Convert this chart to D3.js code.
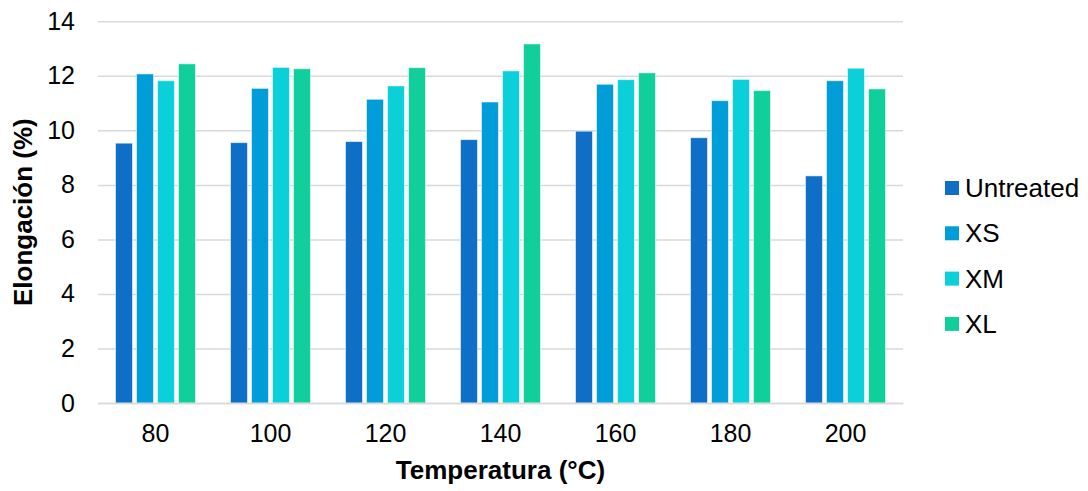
<!DOCTYPE html>
<html>
<head>
<meta charset="utf-8">
<script src="https://cdn.jsdelivr.net/npm/d3@7"></script>
<style>
  html, body { margin: 0; padding: 0; background: #fff; }
  svg { display: block; font-family: Arial, "Liberation Sans", sans-serif; }
</style>
</head>
<body>
<svg id="chart" width="1088" height="491"></svg>
<script>
const categories = ["80", "100", "120", "140", "160", "180", "200"];
const seriesNames = ["Untreated", "XS", "XM", "XL"];
const untreated = [9.53, 9.55, 9.59, 9.66, 9.97, 9.73, 8.33];
const xs = [12.07, 11.54, 11.14, 11.04, 11.69, 11.09, 11.82];
const xm = [11.82, 12.31, 11.63, 12.18, 11.86, 11.87, 12.28];
const xl = [12.44, 12.26, 12.30, 13.17, 12.11, 11.46, 11.52];
const yTicks = [0, 2, 4, 6, 8, 10, 12, 14];
const colors = ["#0F6FC6", "#009DD9", "#0BD0D9", "#10CF9B"];

const seriesValues = [untreated, xs, xm, xl];
const data = categories.map((c, i) => ({
  cat: c,
  vals: seriesNames.map((s, j) => ({ name: s, value: seriesValues[j][i], color: colors[j] }))
}));

const svg = d3.select("#chart");
const pL = 98, pR = 903, pT = 21.3, pB = 403;

const x0 = d3.scaleBand().domain(categories).range([pL, pR])
  .paddingInner(31 / 115).paddingOuter(31 / 230);
const x1 = d3.scaleBand().domain(seriesNames).range([0, x0.bandwidth()])
  .paddingInner(4 / 21).paddingOuter(2 / 21);
const y = d3.scaleLinear().domain([0, 14]).range([pB, pT]);

// gridlines
const yAxis = d3.axisLeft(y).tickValues(yTicks).tickSize(-(pR - pL)).tickPadding(23);
const gy = svg.append("g").attr("transform", `translate(${pL},0)`).call(yAxis);
gy.select(".domain").remove();
gy.selectAll(".tick line").attr("stroke", "#D9D9D9").attr("stroke-width", 1.5);
gy.selectAll(".tick text").attr("fill", "#000").style("font-size", "25px")
  .style("font-family", "Arial, 'Liberation Sans', sans-serif");

// bars
const groups = svg.append("g").selectAll("g").data(data).join("g")
  .attr("transform", d => `translate(${x0(d.cat)},0)`);
groups.selectAll("rect").data(d => d.vals).join("rect")
  .attr("x", d => x1(d.name))
  .attr("width", x1.bandwidth())
  .attr("y", d => y(d.value))
  .attr("height", d => y(0) - y(d.value))
  .attr("fill", d => d.color)
  .attr("stroke", "rgba(255,255,255,0.55)")
  .attr("stroke-width", 1);

// x axis
const xAxis = d3.axisBottom(x0).tickSize(0).tickPadding(21);
const gx = svg.append("g").attr("transform", `translate(0,${pB})`).call(xAxis);
gx.select(".domain").attr("stroke", "#D9D9D9").attr("stroke-width", 1.5);
gx.selectAll(".tick text").attr("fill", "#000").style("font-size", "25px")
  .style("font-family", "Arial, 'Liberation Sans', sans-serif");

// axis titles
svg.append("text")
  .attr("x", (pL + pR) / 2).attr("y", 479)
  .attr("text-anchor", "middle")
  .style("font-size", "26px").style("font-weight", "bold")
  .text("Temperatura (°C)");

svg.append("text")
  .attr("transform", `translate(32,${(pT + pB) / 2}) rotate(-90)`)
  .attr("text-anchor", "middle")
  .style("font-size", "26px").style("font-weight", "bold")
  .text("Elongación (%)");

// legend
const legend = svg.append("g").selectAll("g").data(seriesNames).join("g")
  .attr("transform", (d, i) => `translate(945,${188 + i * 45.3})`);
legend.append("rect").attr("x", 0).attr("y", -7).attr("width", 14).attr("height", 14)
  .attr("fill", (d, i) => colors[i]);
legend.append("text").attr("x", 20).attr("y", 0).attr("dy", "0.35em")
  .style("font-size", "26px").text(d => d);
</script>
</body>
</html>
